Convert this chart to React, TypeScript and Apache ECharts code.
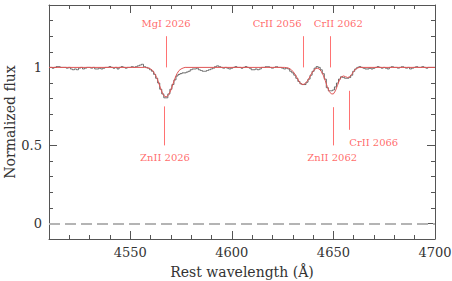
import React, { useEffect, useRef } from "react";
import * as echarts from "echarts";

// Observed spectrum: flux sampled every 1 Å starting at 4510 Å
const obsStart = 4510;
const obsStep = 1;
const obsFlux = [
  // 4510-4558
  1.0, 1.0, 0.995, 1.0, 1.005, 1.005, 1.0, 1.0, 1.0, 0.995,
  1.0, 0.99, 0.985, 0.99, 0.985, 0.995, 1.0, 0.99, 0.995, 1.0,
  1.0, 0.995, 1.0, 0.99, 0.99, 0.995, 0.99, 0.995, 1.0, 1.0,
  1.005, 1.0, 0.995, 1.0, 0.99, 1.0, 1.005, 1.0, 0.995, 1.0,
  1.0, 1.005, 1.0, 1.005, 1.01, 1.015, 1.02, 1.005, 1.0,
  // 4559-4600
  0.995, 0.985, 0.975, 0.955, 0.93, 0.9, 0.86, 0.83, 0.805, 0.805,
  0.83, 0.86, 0.89, 0.92, 0.945, 0.955, 0.96, 0.965, 0.965, 0.97,
  0.975, 0.985, 0.99, 0.99, 0.995, 0.985, 0.98, 0.975, 0.975, 0.98,
  0.985, 0.99, 0.995, 1.005, 1.01, 1.005, 1.0, 0.995, 1.0, 0.995,
  0.99, 0.995,
  // 4601-4700
  1.0, 1.005, 1.0, 1.0, 0.995, 1.0, 1.005, 1.0, 0.995, 0.985,
  0.985, 0.99, 0.985, 0.99, 1.0, 1.0, 1.005, 1.005, 1.0, 0.995,
  1.0, 1.005, 1.0, 1.0, 0.995, 0.99, 0.995, 0.99, 0.975, 0.965,
  0.95, 0.93, 0.91, 0.895, 0.89, 0.89, 0.905, 0.925, 0.95, 0.975,
  0.995, 1.005, 1.0, 0.985, 0.96, 0.925, 0.87, 0.85, 0.85, 0.855,
  0.875, 0.9, 0.925, 0.94, 0.935, 0.93, 0.93, 0.935, 0.95, 0.975,
  0.99, 1.0, 1.005, 1.0, 0.995, 0.99, 0.99, 0.995, 0.99, 0.995,
  1.0, 1.005, 1.0, 0.995, 1.0, 0.995, 0.99, 1.0, 1.005, 1.0,
  1.0, 0.995, 1.0, 1.005, 1.0, 0.995, 1.0, 0.99, 0.995, 1.0,
  1.005, 1.0, 1.0, 1.005, 1.0, 0.995, 1.0, 1.0, 1.0, 1.0,
];

// Fitted model
const modelWave = [
  4510, 4557, 4558, 4559, 4560, 4561, 4562, 4563, 4564, 4565, 4566, 4567, 4568,
  4569, 4570, 4571, 4572, 4573, 4574, 4575, 4576, 4577,
  4626, 4627, 4628, 4629, 4630, 4631, 4632, 4633, 4634, 4635, 4636, 4637, 4638,
  4639, 4640, 4641, 4642, 4643, 4644, 4645, 4646, 4647, 4648, 4649, 4650, 4651,
  4652, 4653, 4654, 4655, 4656, 4657, 4658, 4659, 4660, 4661, 4662, 4663, 4700,
];
const modelFlux = [
  1.0, 1.0, 0.998, 0.996, 0.99, 0.98, 0.96, 0.935, 0.9, 0.862, 0.83, 0.813, 0.812,
  0.826, 0.855, 0.893, 0.93, 0.96, 0.98, 0.99, 0.996, 1.0,
  1.0, 0.998, 0.995, 0.988, 0.975, 0.958, 0.935, 0.912, 0.895, 0.89, 0.895, 0.91, 0.93,
  0.955, 0.975, 0.99, 0.995, 0.99, 0.975, 0.95, 0.915, 0.875, 0.845, 0.83, 0.83, 0.85,
  0.885, 0.92, 0.94, 0.945, 0.94, 0.935, 0.94, 0.955, 0.975, 0.99, 0.997, 1.0, 1.0,
];

// Line identification markers
const markerWave = [4567.6, 4566.6, 4635.1, 4648.4, 4649.9, 4657.8];
const markerTop = [1.2, 0.75, 1.2, 1.2, 0.745, 0.85];
const markerBottom = [1.0, 0.5, 1.0, 1.0, 0.5, 0.6];

// Line labels
const labelNames = ["MgI 2026", "ZnII 2026", "CrII 2056", "CrII 2062", "ZnII 2062", "CrII 2066"];
const labelWave = [4567.6, 4567.1, 4622.3, 4652.4, 4649.4, 4657.8];
const labelFlux = [1.28, 0.425, 1.28, 1.28, 0.425, 0.52];
const labelAlign = ["center", "center", "center", "center", "center", "left"];

const xTicksMajor = [4550, 4600, 4650, 4700];
const yTicksMajor = [0, 0.5, 1];

const FONT = "DejaVu Serif";
const AXIS_COLOR = "#555";
const TEXT_COLOR = "#333";

export default function App() {
  const ref = useRef<HTMLDivElement>(null);
  useEffect(() => {
    if (!ref.current) return;
    const chart = echarts.init(ref.current, undefined, { renderer: "svg" });
    const obsData = obsFlux.map((f, i) => [obsStart + i * obsStep, f]);
    const modelData = modelWave.map((w, i) => [w, modelFlux[i]]);
    const grid = {
      left: 49,
      right: 17,
      top: 5,
      bottom: 42,
      containLabel: false,
      outerBoundsMode: "none",
    };
    const minorX = (pos: string) => ({
      gridIndex: 0,
      type: "value",
      position: pos,
      min: 4510,
      max: 4700,
      interval: 10,
      axisLine: { show: true, onZero: false, lineStyle: { color: AXIS_COLOR, width: 1 } },
      axisTick: { show: true, inside: true, length: 4, lineStyle: { color: AXIS_COLOR } },
      axisLabel: { show: false },
      splitLine: { show: false },
    });
    const minorY = (pos: string) => ({
      gridIndex: 0,
      type: "value",
      position: pos,
      min: -0.1,
      max: 1.4,
      interval: 0.1,
      axisLine: { show: true, onZero: false, lineStyle: { color: AXIS_COLOR, width: 1 } },
      axisTick: { show: true, inside: true, length: 4, lineStyle: { color: AXIS_COLOR } },
      axisLabel: { show: false },
      splitLine: { show: false },
    });
    const majorTick = (vals: number[]) => ({
      show: true,
      inside: true,
      length: 8,
      customValues: vals,
      lineStyle: { color: AXIS_COLOR },
    });
    const option: any = {
      animation: false,
      backgroundColor: "#fff",
      grid: [grid, { ...grid }],
      xAxis: [
        minorX("bottom"),
        minorX("top"),
        {
          gridIndex: 1,
          type: "value",
          position: "bottom",
          min: 4510,
          max: 4700,
          axisLine: { show: false, onZero: false },
          axisTick: majorTick(xTicksMajor),
          axisLabel: {
            show: true,
            customValues: xTicksMajor,
            formatter: (v: number) => String(v),
            margin: 7,
            fontFamily: FONT,
            fontSize: 13,
            color: TEXT_COLOR,
          },
          splitLine: { show: false },
          name: "Rest wavelength (Å)",
          nameLocation: "middle",
          nameGap: 26,
          nameMoveOverlap: false,
          nameTextStyle: { fontFamily: FONT, fontSize: 14, color: TEXT_COLOR },
        },
        {
          gridIndex: 1,
          type: "value",
          position: "top",
          min: 4510,
          max: 4700,
          axisLine: { show: false, onZero: false },
          axisTick: majorTick(xTicksMajor),
          axisLabel: { show: false },
          splitLine: { show: false },
        },
      ],
      yAxis: [
        minorY("left"),
        minorY("right"),
        {
          gridIndex: 1,
          type: "value",
          position: "left",
          min: -0.1,
          max: 1.4,
          axisLine: { show: false, onZero: false },
          axisTick: majorTick(yTicksMajor),
          axisLabel: {
            show: true,
            customValues: yTicksMajor,
            formatter: (v: number) => String(v),
            margin: 7,
            fontFamily: FONT,
            fontSize: 13,
            color: TEXT_COLOR,
          },
          splitLine: { show: false },
          name: "Normalized flux",
          nameLocation: "middle",
          nameGap: 32,
          nameMoveOverlap: false,
          nameTextStyle: { fontFamily: FONT, fontSize: 14, color: TEXT_COLOR },
        },
        {
          gridIndex: 1,
          type: "value",
          position: "right",
          min: -0.1,
          max: 1.4,
          axisLine: { show: false, onZero: false },
          axisTick: majorTick(yTicksMajor),
          axisLabel: { show: false },
          splitLine: { show: false },
        },
      ],
      series: [
        {
          type: "line",
          xAxisIndex: 0,
          yAxisIndex: 0,
          data: obsData,
          step: "middle",
          showSymbol: false,
          symbol: "none",
          lineStyle: { color: "#666", width: 1 },
          silent: true,
          markLine: {
            silent: true,
            symbol: "none",
            label: { show: false },
            lineStyle: { color: "#b4b4b4", type: [11, 5], width: 2 },
            data: [{ yAxis: 0 }],
          },
          z: 2,
        },
        {
          type: "line",
          xAxisIndex: 0,
          yAxisIndex: 0,
          data: modelData,
          showSymbol: false,
          symbol: "none",
          lineStyle: { color: "#e05555", width: 1 },
          silent: true,
          z: 3,
          markLine: {
            silent: true,
            symbol: "none",
            label: { show: false },
            lineStyle: { color: "#ff7272", type: "solid", width: 1 },
            data: markerWave.map((w, i) => [
              { coord: [w, markerTop[i]] },
              { coord: [w, markerBottom[i]] },
            ]),
          },
        },
        {
          type: "scatter",
          xAxisIndex: 0,
          yAxisIndex: 0,
          symbolSize: 0,
          silent: true,
          data: labelNames.map((n, i) => ({
            name: n,
            value: [labelWave[i], labelFlux[i]],
            label: {
              show: true,
              position: "inside",
              align: labelAlign[i],
              verticalAlign: "middle",
              formatter: n,
              fontFamily: FONT,
              fontSize: 10,
              color: "#ff4545",
            },
          })),
        },
      ],
    };
    chart.setOption(option);
    return () => chart.dispose();
  }, []);
  return (
    <div
      ref={ref}
      style={{ position: "fixed", left: 0, top: 0, width: 452, height: 281 }}
    />
  );
}
